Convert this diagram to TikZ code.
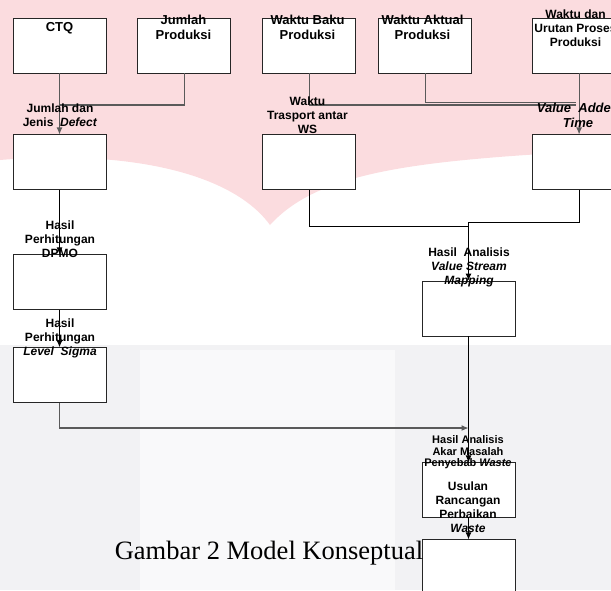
\documentclass[tikz,border=0pt]{standalone}
\usepackage{fontspec}
\setmainfont{Liberation Serif}
\setsansfont{Liberation Sans}
\usetikzlibrary{arrows.meta,positioning}

\definecolor{wmpink}{RGB}{251,220,223}
\definecolor{wmgray}{RGB}{242,242,244}
\definecolor{wmlight}{RGB}{249,249,250}
\definecolor{linegray}{RGB}{90,90,90}

\tikzset{
    box/.style={draw=black!85, fill=white, line width=0.9pt, minimum width=93pt, minimum height=55pt, inner sep=0pt},
    lbl/.style={font=\sffamily\bfseries\fontsize{12}{14}\selectfont, align=center, inner sep=0pt},
    biglbl/.style={lbl, font=\sffamily\bfseries\fontsize{13}{15}\selectfont},
    smalllbl/.style={lbl, font=\sffamily\bfseries\fontsize{11}{11.5}\selectfont},
    conn/.style={draw=linegray, line width=1.1pt},
    flow/.style={draw=black, line width=0.9pt}
}

\begin{document}
\begin{tikzpicture}[x=1pt, y=1pt, >={Latex[length=7pt,width=6pt]}]
    \useasboundingbox (0,0) rectangle (611,-590);
    \begin{scope}
    \clip (0,0) rectangle (611,-590);
    % watermark
    \fill[wmpink] (0,0) -- (611,0) -- (611,-150) .. controls (420,-160) and (320,-170) .. (270,-225) .. controls (230,-170) and (120,-150) .. (0,-160) -- cycle;
    \fill[wmgray] (0,-345) rectangle (611,-590);
    \fill[wmlight] (140,-350) rectangle (395,-590);

    % Nodes {ctq, jumlah, baku, aktual, urutan, etc}
    \node [box]                              (ctq)       at (59.5,-45.5) {};
    \node [box, right=31pt of ctq]           (jumlah)    {};
    \node [box, right=31pt of jumlah]        (baku)      {};
    \node [box, right=22pt of baku]          (aktual)    {};
    \node [box, right=60pt of aktual]        (urutan)    {};
    \node [box, below=61pt of ctq]           (defect)    {};
    \node [box, below=61pt of baku]          (transport) {};
    \node [box, below=61pt of urutan]        (vat)       {};
    \node [box, below=64pt of defect]        (dpmo)      {};
    \node [box, below=37pt of dpmo]          (sigma)     {};
    \node [box]                              (vsm)       at (468.5,-308.5) {};
    \node [box, below=126pt of vsm]          (usulan)    {};
    \node [box, below=21pt of usulan]        (akhir)     {};

    % Join points
    \coordinate (jm) at (59.5,-105);
    \coordinate (bm) at (575.5,-105);
    \coordinate (am) at (575.5,-102.5);
    \coordinate (tm) at (468.5,-226);
    \coordinate (vm) at (468.5,-222);
    \coordinate (sm) at (468.5,-428);

    % Paths
    \draw [conn, ->]  (ctq.south)       -- (defect.north);
    \draw [conn]      (jumlah.south)    |- (jm);
    \draw [conn]      (baku.south)      |- (bm);
    \draw [conn]      (aktual.south)    |- (am);
    \draw [conn, ->]  (urutan.south)    -- (vat.north);
    \draw [flow, ->]  (defect.south)    -- (dpmo.north);
    \draw [flow, ->]  (dpmo.south)      -- (sigma.north);
    \draw [flow]      (transport.south) |- (tm);
    \draw [flow]      (vat.south)       |- (vm);
    \draw [flow, ->]  (vm)              -- (vsm.north);
    \draw [flow, ->]  (vsm.south)       -- (usulan.north);
    \draw [conn, ->]  (sigma.south)     |- (sm);
    \draw [flow, ->]  (usulan.south)    -- (akhir.north);

    % Labels
    \node [biglbl] (tctq)       at (59.5,-28)   {CTQ};
    \node [biglbl] (tjumlah)    at (183.5,-27.5) {Jumlah\\Produksi};
    \node [biglbl] (tbaku)      at (307.5,-27.5) {Waktu Baku\\Produksi};
    \node [biglbl] (taktual)    at (422.5,-27.5) {Waktu Aktual\\Produksi};
    \node [lbl]    (turutan)    at (575.5,-28)   {Waktu dan\\Urutan Proses\\Produksi};
    \node [lbl]    (tdefect)    at (60,-115.5)   {Jumlah dan\\Jenis \ \textit{Defect}};
    \node [lbl]    (ttransport) at (307.5,-115.5) {Waktu\\Trasport antar\\WS};
    \node [biglbl] (tvat)       at (578,-115.5)  {\textit{Value \ Added}\\\textit{Time}};
    \node [lbl]    (tdpmo)      at (60,-239)     {Hasil\\Perhitungan\\DPMO};
    \node [lbl]    (tsigma)     at (60,-338)     {Hasil\\Perhitungan\\\textit{Level \ Sigma}};
    \node [lbl]    (tvsm)       at (469,-267)    {Hasil \ Analisis\\\textit{Value Stream}\\\textit{Mapping}};
    \node [smalllbl] (takar)    at (468,-452.5)  {Hasil Analisis\\Akar Masalah\\Penyebab \textit{Waste}};
    \node [lbl]    (tusulan)    at (468,-507.5)  {Usulan\\Rancangan\\Perbaikan\\\textit{Waste}};
    \node [font=\rmfamily\fontsize{26.5}{30}\selectfont, inner sep=0pt] (caption) at (269,-553) {Gambar 2 Model Konseptual};
    \end{scope}
\end{tikzpicture}
\end{document}
